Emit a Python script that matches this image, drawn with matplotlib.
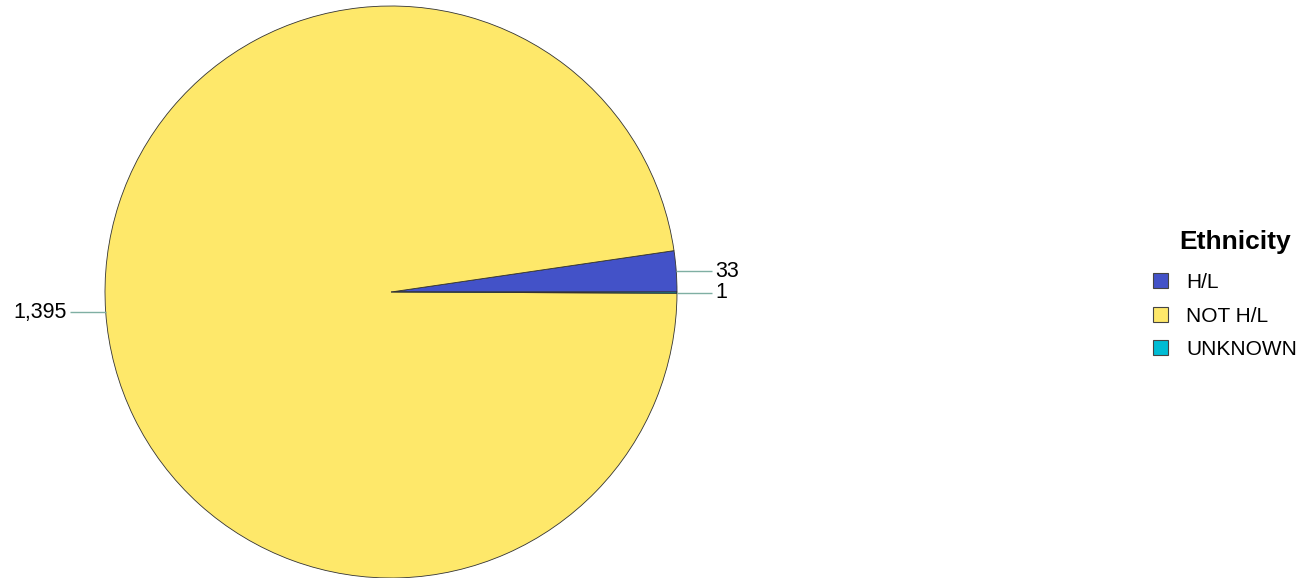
import matplotlib.pyplot as plt
import numpy as np
from matplotlib.patches import Patch

plt.rcParams['font.family'] = ['Liberation Sans', 'DejaVu Sans']

# Ethnicity counts, drawn counter-clockwise from 3 o'clock
categories = ['H/L', 'NOT H/L', 'UNKNOWN']
counts = [33, 1395, 1]
colors = ['#4352C8', '#FEE86A', '#00BCD4']
value_labels = ['33', '1,395', '1']

fig = plt.figure(figsize=(13.12, 5.78), dpi=100)
# square axes holding the pie: 572 x 572 px, centred at (391, 292)
ax = fig.add_axes([105 / 1312, 0, 572 / 1312, 572 / 578])

wedges, _ = ax.pie(counts, colors=colors, startangle=0, counterclock=True,
                   radius=1.0,
                   wedgeprops=dict(edgecolor='#333333', linewidth=0.6))
ax.set_xlim(-1, 1)
ax.set_ylim(-1, 1)
ax.set_aspect('auto')
ax.axis('off')

# value labels with short horizontal leader lines
for w, txt in zip(wedges, value_labels):
    mid = np.deg2rad((w.theta1 + w.theta2) / 2)
    x0, y0 = np.cos(mid), np.sin(mid)
    side = 1 if x0 >= 0 else -1
    x1 = side * 1.122
    ax.plot([x0, x1], [y0, y0], color='#7FAFA3', linewidth=1.0,
            clip_on=False, solid_capstyle='butt')
    ax.text(x1 + side * 0.012, y0, txt, fontsize=15.5,
            ha='left' if side > 0 else 'right', va='center', clip_on=False)

# legend entries, with the title placed on its own above them
handles = [Patch(facecolor=c, edgecolor='#444444', linewidth=0.8) for c in colors]
leg = fig.legend(handles, categories, loc='center left',
                 bbox_to_anchor=(1134 / 1312, 1 - 316 / 578), frameon=False,
                 fontsize=15, handlelength=0.75, handleheight=0.75,
                 handletextpad=0.85, labelspacing=0.7)
fig.text(1235 / 1312, 1 - 242 / 578, 'Ethnicity', fontsize=19,
         fontweight='bold', ha='center', va='center')

fig.savefig('out.png', dpi=100)
plt.close(fig)
